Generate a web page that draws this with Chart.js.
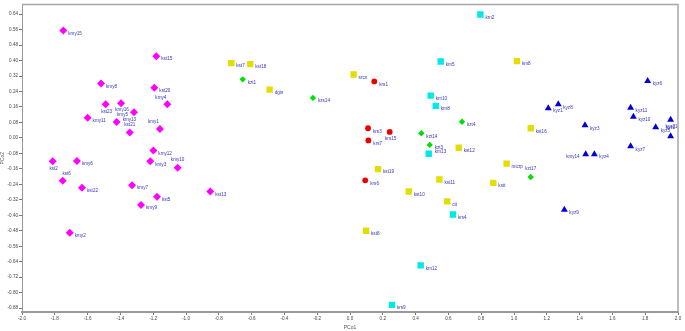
<!DOCTYPE html>
<html>
<head>
<meta charset="utf-8">
<script src="https://cdn.jsdelivr.net/npm/chart.js@4.4.1/dist/chart.umd.min.js"></script>
<style>
  body { margin: 0; background: #fff; }
  canvas { display: block; }
</style>
</head>
<body>
<canvas id="pcoa" width="685" height="331"></canvas>
<script>
// tick values
const xTicks = [-2.0, -1.8, -1.6, -1.4, -1.2, -1.0, -0.8, -0.6, -0.4, -0.2, 0.0, 0.2, 0.4, 0.6, 0.8, 1.0, 1.2, 1.4, 1.6, 1.8, 2.0];
const yTicks = [-0.88, -0.80, -0.72, -0.64, -0.56, -0.48, -0.40, -0.32, -0.24, -0.16, -0.08, 0.00, 0.08, 0.16, 0.24, 0.32, 0.40, 0.48, 0.56, 0.64];

// magenta diamonds
const kmyNames = ["kmy15", "kst15", "kmy8", "kst20", "kmy4", "kst23", "kmy16", "kmy5", "kmy11", "kmy13", "kst21", "kmy1", "kmy12", "kmy3", "kmy10", "kmy6", "kst2", "kst6", "kst22", "kmy7", "kst5", "kmy9", "kst13", "kmy2"];
const kmyX = [-1.748, -1.181, -1.518, -1.193, -1.114, -1.490, -1.396, -1.317, -1.600, -1.423, -1.343, -1.159, -1.199, -1.218, -1.051, -1.665, -1.813, -1.752, -1.634, -1.329, -1.177, -1.274, -0.852, -1.709];
const kmyY = [0.556, 0.423, 0.281, 0.260, 0.174, 0.174, 0.180, 0.133, 0.105, 0.082, 0.028, 0.046, -0.065, -0.121, -0.154, -0.119, -0.121, -0.221, -0.258, -0.244, -0.304, -0.347, -0.277, -0.490];

// yellow squares
const kstNames = ["kst7", "kst18", "dgin", "srcn", "km8", "kst16", "kst12", "micrp", "kstt", "kst19", "kst11", "kst10", "ctt", "kst8"];
const kstX = [-0.724, -0.608, -0.490, 0.022, 1.018, 1.102, 0.663, 0.955, 0.874, 0.171, 0.545, 0.358, 0.593, 0.098];
const kstY = [0.387, 0.382, 0.250, 0.328, 0.397, 0.050, -0.051, -0.133, -0.232, -0.161, -0.215, -0.277, -0.328, -0.480];

// green diamonds
const kztNames = ["kzt1", "kzs14", "kzt14", "kzt3", "kzt4", "kzt17"];
const kztX = [-0.654, -0.226, 0.435, 0.486, 0.683, 1.102];
const kztY = [0.303, 0.207, 0.024, -0.036, 0.084, -0.202];

// cyan squares
const krnNames = ["krn2", "krn5", "krn10", "krn8", "krn13", "krs4", "krn12", "krs9"];
const krnX = [0.795, 0.553, 0.492, 0.523, 0.480, 0.628, 0.431, 0.256];
const krnY = [0.638, 0.395, 0.219, 0.166, -0.082, -0.396, -0.659, -0.863];

// red circles
const krsNames = ["krs1", "krs3", "krs15", "krs7", "krs6"];
const krsX = [0.148, 0.110, 0.242, 0.112, 0.093];
const krsY = [0.292, 0.050, 0.031, -0.013, -0.219];

// blue triangles
const kyzNames = ["kyz6", "kyz1", "kyz8", "kyz11", "kyz10", "kyz3", "kyz5", "kyz21", "kyz2", "kyz7", "kmy14", "kyz4", "kyz9"];
const kyzX = [1.815, 1.209, 1.270, 1.711, 1.728, 1.433, 1.864, 1.955, 1.955, 1.711, 1.437, 1.490, 1.307];
const kyzY = [0.294, 0.154, 0.174, 0.156, 0.110, 0.065, 0.055, 0.094, 0.009, -0.043, -0.084, -0.084, -0.371];

// where a label sits relative to its point (default: to the right)
const labelAt = {
  kmy4: "nw", kst23: "s", kmy16: "s", kmy5: "w", kmy13: "ne2", kst21: "n",
  kmy1: "nw", kmy10: "n", kst2: "s", kst6: "ne", kzt17: "n", krs15: "s",
  kmy14: "w", kyz21: "s", kyz2: "n", krn13: "ne2"
};

const toPoints = (xs, ys) => xs.map((x, i) => ({ x: x, y: ys[i] }));

const makeSet = (names, xs, ys, color, style, radius) => ({
  names: names,
  data: toPoints(xs, ys),
  backgroundColor: color,
  borderColor: color,
  borderWidth: 0,
  pointStyle: style,
  pointRadius: radius,
  pointHoverRadius: radius
});

const pointLabels = {
  id: "pointLabels",
  afterDatasetsDraw(chart) {
    const ctx = chart.ctx;
    ctx.save();
    ctx.font = "4.6px 'Liberation Sans', Arial, sans-serif";
    ctx.fillStyle = "#3434c4";
    ctx.textBaseline = "middle";
    chart.data.datasets.forEach((ds, di) => {
      const meta = chart.getDatasetMeta(di);
      meta.data.forEach((el, i) => {
        const name = ds.names[i];
        const pos = labelAt[name] || "e";
        let x = el.x, y = el.y;
        if (pos === "e") { ctx.textAlign = "left"; x += 5; y += 3; }
        else if (pos === "w") { ctx.textAlign = "right"; x -= 6; y += 3; }
        else if (pos === "n") { ctx.textAlign = "center"; y -= 8; }
        else if (pos === "s") { ctx.textAlign = "center"; x += 1; y += 7; }
        else if (pos === "nw") { ctx.textAlign = "right"; x -= 1; y -= 7; }
        else if (pos === "ne") { ctx.textAlign = "center"; x += 4; y -= 7; }
        else if (pos === "ne2") { ctx.textAlign = "left"; x += 6; y -= 2; }
        ctx.fillText(name, x, y);
      });
    });
    ctx.restore();
  }
};

const frame = {
  id: "frame",
  beforeDatasetsDraw(chart) {
    const a = chart.chartArea;
    const ctx = chart.ctx;
    ctx.save();
    ctx.strokeStyle = "#a8a8a8";
    ctx.lineWidth = 1.5;
    ctx.beginPath();
    ctx.moveTo(a.left, a.top);
    ctx.lineTo(a.right, a.top);
    ctx.lineTo(a.right, a.bottom);
    ctx.stroke();
    ctx.restore();
  }
};

const tickFont = { family: "'Liberation Sans', Arial, sans-serif", size: 4.6 };

new Chart(document.getElementById("pcoa"), {
  type: "scatter",
  data: {
    datasets: [
      makeSet(kmyNames, kmyX, kmyY, "#ff00ff", "rectRot", 4),
      makeSet(kstNames, kstX, kstY, "#e2de00", "rect", 4.5),
      makeSet(krnNames, krnX, krnY, "#00e8e8", "rect", 4.5),
      makeSet(kztNames, kztX, kztY, "#00e000", "rectRot", 3.2),
      makeSet(krsNames, krsX, krsY, "#ee0000", "circle", 2.9),
      makeSet(kyzNames, kyzX, kyzY, "#0000dd", "triangle", 4)
    ]
  },
  options: {
    responsive: false,
    animation: false,
    devicePixelRatio: 1,
    layout: { padding: { top: 3, right: 7, left: 0, bottom: 0 } },
    plugins: {
      legend: { display: false },
      tooltip: { enabled: false }
    },
    scales: {
      x: {
        type: "linear",
        min: -2,
        max: 2,
        afterBuildTicks: s => { s.ticks = xTicks.map(v => ({ value: v })); },
        afterFit: s => { s.height = 19; },
        ticks: {
          callback: v => v.toFixed(1),
          font: tickFont,
          color: "#444",
          padding: 1,
          maxRotation: 0,
          autoSkip: false
        },
        grid: { drawOnChartArea: false, tickLength: 3, color: "#777" },
        border: { color: "#999", width: 2 },
        title: { display: true, text: "PCo1", font: { family: "'Liberation Sans', Arial, sans-serif", size: 5 }, color: "#555", padding: 0 }
      },
      y: {
        type: "linear",
        min: -0.9,
        max: 0.69,
        afterBuildTicks: s => { s.ticks = yTicks.map(v => ({ value: v })); },
        afterFit: s => { s.width = 22; },
        ticks: {
          callback: v => v.toFixed(2),
          font: tickFont,
          color: "#444",
          padding: 1,
          autoSkip: false
        },
        grid: { drawOnChartArea: false, tickLength: 3, color: "#777" },
        border: { color: "#999", width: 1 },
        title: { display: true, text: "PCo2", font: { family: "'Liberation Sans', Arial, sans-serif", size: 5 }, color: "#555", padding: 0 }
      }
    }
  },
  plugins: [pointLabels, frame]
});
</script>
</body>
</html>
